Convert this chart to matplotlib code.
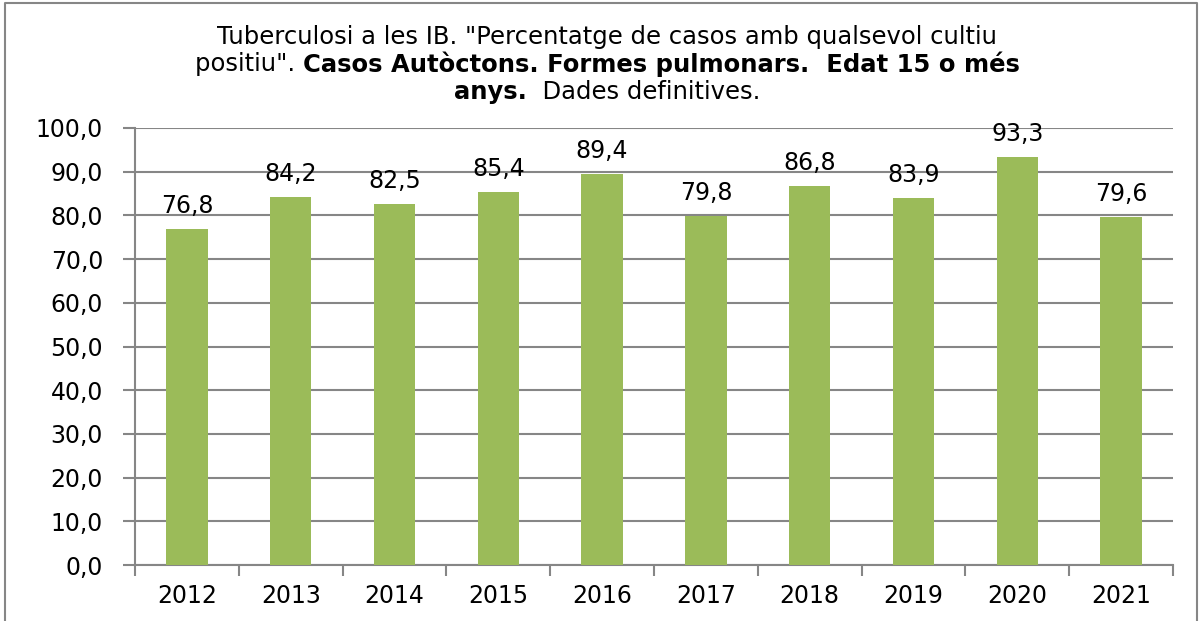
import matplotlib
matplotlib.use("Agg")
import matplotlib.pyplot as plt
from matplotlib.lines import Line2D

# Data
years = ["2012", "2013", "2014", "2015", "2016", "2017", "2018", "2019", "2020", "2021"]
values = [76.8, 84.2, 82.5, 85.4, 89.4, 79.8, 86.8, 83.9, 93.3, 79.6]
title_lines = [
    [("Tuberculosi a les IB. \"Percentatge de casos amb qualsevol cultiu", "normal")],
    [("positiu\". ", "normal"), ("Casos Autòctons. Formes pulmonars.  Edat 15 o més", "bold")],
    [("anys.", "bold"), ("  Dades definitives.", "normal")],
]

W, H = 1201, 621
fig = plt.figure(figsize=(W / 100, H / 100), dpi=100)
ax = fig.add_axes([135 / W, 1 - 565 / H, (1173 - 135) / W, (565 - 128) / H])

grey = "#868686"
x = list(range(len(years)))
ax.bar(x, values, width=0.40, color="#9BBB59", zorder=3)
ax.set_xlim(-0.5, len(years) - 0.5)
ax.set_ylim(0, 100)
ax.set_yticks(range(0, 101, 10))
ax.set_yticklabels([f"{v},0" for v in range(0, 101, 10)])
ax.set_xticks(x)
ax.set_xticklabels(years)
ax.set_xticks([i - 0.5 for i in range(len(years) + 1)], minor=True)
ax.tick_params(axis="x", which="major", length=0, pad=14, labelsize=17)
ax.tick_params(axis="x", which="minor", length=8, width=1.5, color=grey, direction="out")
ax.tick_params(axis="y", length=9, width=1.5, color=grey, pad=14, labelsize=17)
ax.grid(axis="y", color=grey, linewidth=1.5, zorder=0)
for s in ["top", "right"]:
    ax.spines[s].set_visible(False)
for s in ["left", "bottom"]:
    ax.spines[s].set_color(grey)
    ax.spines[s].set_linewidth(1.5)

for xi, v in zip(x, values):
    ax.annotate(f"{v:.1f}".replace(".", ","), (xi, v), xytext=(0, 8),
                textcoords="offset points", ha="center", va="bottom", fontsize=17)

# title with mixed weights, centred line by line
fig.canvas.draw()
r = fig.canvas.get_renderer()
cx = 607 / W
ys = [37, 64, 92]
for line, yp in zip(title_lines, ys):
    texts = [fig.text(0, 1 - yp / H, s, fontsize=17.5, family="DejaVu Sans", weight=w,
                      va="center", ha="left") for s, w in line]
    widths = [t.get_window_extent(r).width / W for t in texts]
    x0 = cx - sum(widths) / 2
    for t, w in zip(texts, widths):
        t.set_x(x0)
        x0 += w

# outer border
fig.add_artist(Line2D([5 / W, 5 / W, 1197 / W, 1197 / W], [0, 1 - 3 / H, 1 - 3 / H, 0],
                      color=grey, linewidth=1.5, transform=fig.transFigure))

fig.savefig("out.png", dpi=100)
